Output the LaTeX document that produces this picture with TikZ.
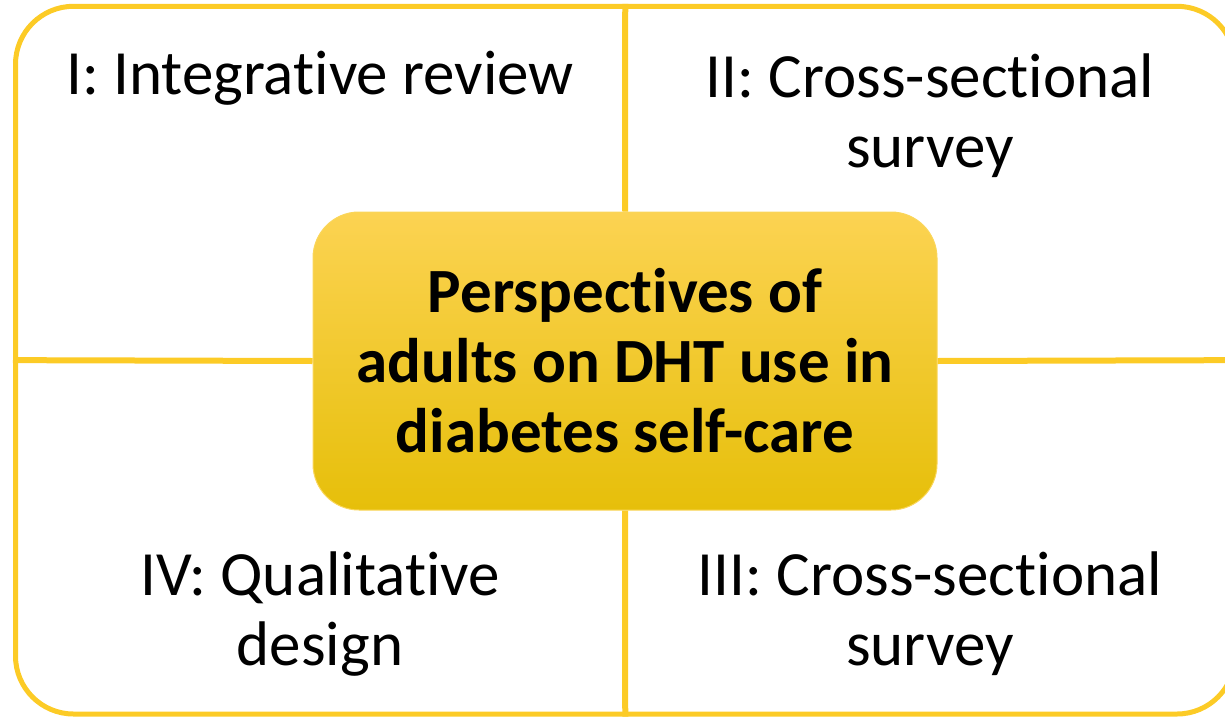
\documentclass[tikz,border=0pt]{standalone}
\usepackage{fontspec}
\setmainfont[Ligatures=NoCommon]{Carlito}
\usepackage{tikz}

\definecolor{frameyellow}{RGB}{252,203,38}
\definecolor{hubtop}{RGB}{252,211,82}
\definecolor{hubmid}{RGB}{253,207,40}
\definecolor{hubbottom}{RGB}{230,191,10}
\definecolor{hubline}{RGB}{250,214,90}

\begin{document}
\begin{tikzpicture}[x=1pt,y=-1pt]
\tikzset{frame/.style = {draw=frameyellow,line width=5pt,rounded corners=58pt,inner sep=0pt}}
\tikzset{hub/.style = {draw=hubline,line width=1pt,rounded corners=46pt,top color=hubtop,
  middle color=hubmid,bottom color=hubbottom,minimum width=624pt,minimum height=298pt,
  align=center,font=\fontsize{63}{70}\selectfont\bfseries}}
\tikzset{study/.style = {align=center,font=\fontsize{63}{70}\selectfont}}
\tikzset{edge/.style = {draw=frameyellow,line width=6pt}}
\useasboundingbox (0,0) rectangle (1225,717);
% frame and hub
\node[frame,minimum width=1219.5pt,minimum height=707.7pt] (frame) at (625.25,360.15) {};
\node[hub] (hub) at (625,361) {Perspectives of\\adults on DHT use in\\diabetes self-care};
%edges
\path[edge] (frame.north) -- (hub.north);
\path[edge] (hub.south) -- (frame.south);
\path[edge] (frame.west) -- (hub.west);
\path[edge] (hub.east) -- (frame.east);
% studies
\node[study] (rev) at (320,78) {I: Integrative review};
\node[study] (surv) at (930,116) {II: Cross-sectional\\survey};
\node[study] (surv2) at (930,614) {III: Cross-sectional\\survey};
\node[study] (qual) at (320,614) {IV: Qualitative\\design};
\end{tikzpicture}
\end{document}
